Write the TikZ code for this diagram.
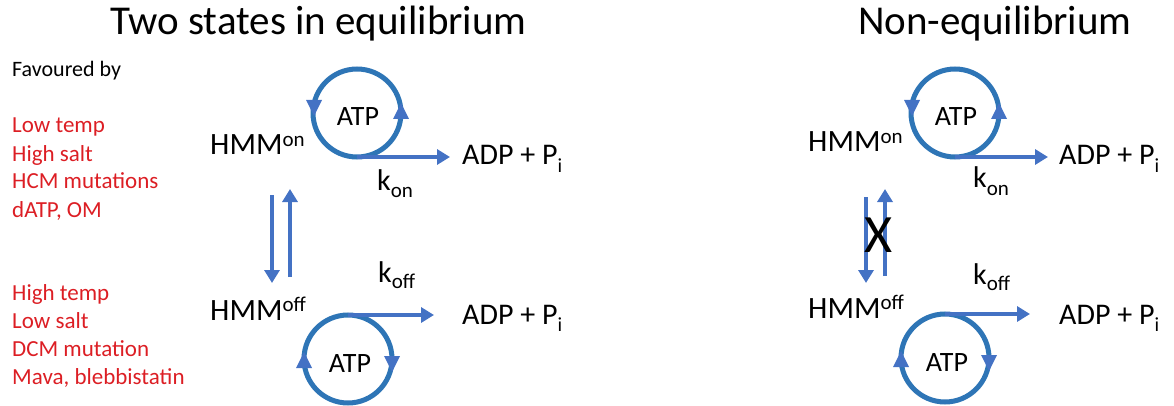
\documentclass[tikz,border=0pt]{standalone}
\usepackage{fontspec}
\setmainfont{Carlito}
\usetikzlibrary{arrows.meta}
\definecolor{circc}{HTML}{2E75B6}
\definecolor{arrc}{HTML}{4472C4}
\definecolor{condred}{RGB}{220,30,36}
\newcommand{\HMMtxt}[2]{\fontsize{31}{37}\selectfont HMM\raisebox{#2pt}{\fontsize{21}{25}\selectfont #1}}
\newcommand{\Ktxt}[2]{\fontsize{30}{36}\selectfont k\raisebox{-#2pt}{\fontsize{21}{25}\selectfont #1}}
\newcommand{\ADPtxt}{\fontsize{30}{36}\selectfont ADP + P\raisebox{-7pt}{\fontsize{20}{24}\selectfont i}}
\tikzset{
  ttl/.style={font=\fontsize{41}{49}\selectfont, anchor=base west, inner sep=0},
  lbl/.style={anchor=base west, inner sep=0},
  fav/.style={font=\fontsize{22}{26}\selectfont, anchor=base west, inner sep=0},
  cond/.style={font=\fontsize{23}{28}\selectfont, text=condred, anchor=base west, inner sep=0},
  cyc/.style={circle, draw=circc, line width=5pt, minimum size=88pt, inner sep=0, outer sep=0},
  atp/.style={font=\fontsize{28}{33}\selectfont, inner sep=0},
  flow/.style={draw=arrc, line width=4.5pt, -{Triangle[width=15pt,length=13pt]}},
  head/.style={fill=arrc},
}
\begin{document}
\begin{tikzpicture}[x=1pt,y=-1pt]
\useasboundingbox (0,0) rectangle (1174,406);
% titles
\node[ttl] (t1) at (110,35) {Two states in equilibrium};
\node[ttl] (t2) at (858,35) {Non-equilibrium};
% favoured by
\node[fav] (fav) at (12,77) {Favoured by};
\node[cond] (c11) at (12,133) {Low temp};
\node[cond] (c12) at (12,161) {High salt};
\node[cond] (c13) at (12,189) {HCM mutations};
\node[cond] (c14) at (12,217) {dATP, OM};
\node[cond] (c21) at (12,300) {High temp};
\node[cond] (c22) at (12,328) {Low salt};
\node[cond] (c23) at (12,356) {DCM mutation};
\node[cond] (c24) at (12,384) {Mava, blebbistatin};
% ---------- left panel ----------
\node[lbl] (hon) at (210,155) {\HMMtxt{on}{8}};
\node[lbl] (hoff) at (210,320) {\HMMtxt{off}{9}};
\node[cyc] (cA) at (357,113) {};
\node[atp] (tA) at (358,117) {ATP};
\node[cyc] (cB) at (348,359) {};
\node[atp] (tB) at (350,364) {ATP};
\node[lbl] (kon) at (377,190) {\Ktxt{on}{7}};
\node[lbl] (koff) at (378,282) {\Ktxt{off}{6}};
\node[lbl] (adp1) at (462,165) {\ADPtxt};
\node[lbl] (adp2) at (462,324) {\ADPtxt};
\coordinate (eA) at (450,157);
\coordinate (eB) at (434,315);
\draw[flow] (cA.south) -- (eA);
\draw[flow] (cB.north) -- (eB);
\fill[head] (306,100) -- (322,100) -- (314,116) -- cycle;
\fill[head] (393,119) -- (409,119) -- (401,103) -- cycle;
\fill[head] (296,368) -- (312,368) -- (304,352) -- cycle;
\fill[head] (384,356) -- (400,356) -- (392,372) -- cycle;
\coordinate (dA1) at (272,195);
\coordinate (dA2) at (272,283);
\coordinate (uA1) at (290,277);
\coordinate (uA2) at (290,189);
\draw[flow] (dA1) -- (dA2);
\draw[flow] (uA1) -- (uA2);
% ---------- right panel ----------
\node[lbl] (hon2) at (808,152) {\HMMtxt{on}{8}};
\node[lbl] (hoff2) at (808,318) {\HMMtxt{off}{9}};
\node[cyc] (cC) at (955,113) {};
\node[atp] (tC) at (956,117) {ATP};
\node[cyc] (cD) at (945,358) {};
\node[atp] (tD) at (947,363) {ATP};
\node[lbl] (kon2) at (973,188) {\Ktxt{on}{7}};
\node[lbl] (koff2) at (973,284) {\Ktxt{off}{6}};
\node[lbl] (adp3) at (1059,165) {\ADPtxt};
\node[lbl] (adp4) at (1059,324) {\ADPtxt};
\coordinate (eC) at (1048,157);
\coordinate (eD) at (1030,314);
\draw[flow] (cC.south) -- (eC);
\draw[flow] (cD.north) -- (eD);
\fill[head] (904,100) -- (920,100) -- (912,116) -- cycle;
\fill[head] (991,119) -- (1007,119) -- (999,103) -- cycle;
\fill[head] (893,367) -- (909,367) -- (901,351) -- cycle;
\fill[head] (981,355) -- (997,355) -- (989,371) -- cycle;
\coordinate (dC1) at (866,197);
\coordinate (dC2) at (866,283);
\coordinate (uC1) at (885,276);
\coordinate (uC2) at (885,189);
\draw[flow] (dC1) -- (dC2);
\draw[flow] (uC1) -- (uC2);
\node[font=\fontsize{54}{62}\selectfont, inner sep=0] (xx) at (879,235) {X};
\end{tikzpicture}
\end{document}
